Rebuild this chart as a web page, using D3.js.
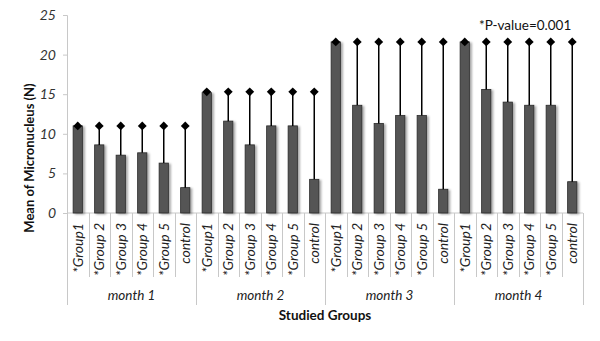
<!DOCTYPE html>
<html><head><meta charset="utf-8">
<script src="https://cdn.jsdelivr.net/npm/d3@7"></script>
<style>body{margin:0;background:#fff}svg{display:block}</style>
</head><body>
<script>
const months = ["month 1", "month 2", "month 3", "month 4"];
const groups = ["*Group1", "*Group 2", "*Group 3", "*Group 4", "*Group 5", "control"];
const means = [
  [11.0, 8.6, 7.3, 7.6, 6.3, 3.2],
  [15.2, 11.6, 8.6, 11.0, 11.0, 4.25],
  [21.6, 13.6, 11.3, 12.3, 12.3, 3.0],
  [21.6, 15.6, 14.0, 13.6, 13.6, 3.95]
];
const errorTops = [11.0, 15.3, 21.6, 21.6];
const yTicks = [0, 5, 10, 15, 20, 25];
const yTitle = "Mean of Micronucleus (N)";
const xTitle = "Studied Groups";
const note = "*P-value=0.001";

const W = 600, H = 341;
const m = {left: 67, right: 17, top: 15, bottom: 128};
const svg = d3.select("body").append("svg").attr("width", W).attr("height", H);
const font = "Lato, 'Open Sans', sans-serif";

const rows = [];
months.forEach((mo, i) => groups.forEach((g, j) => rows.push({key: mo + "|" + g, month: mo, group: g, v: means[i][j], top: errorTops[i], mi: i})));

const x = d3.scaleBand().domain(rows.map(d => d.key)).range([m.left, W - m.right]).paddingInner(0).paddingOuter(0);
const y = d3.scaleLinear().domain([0, 25]).range([H - m.bottom, m.top]);
const bw = x.bandwidth();
const barW = bw * 0.43;

const defs = svg.append("defs");
const f = defs.append("filter").attr("id", "sh").attr("x", "-50%").attr("y", "-10%").attr("width", "200%").attr("height", "120%");
f.append("feDropShadow").attr("dx", 2).attr("dy", 1).attr("stdDeviation", 1.2).attr("flood-color", "#000").attr("flood-opacity", 0.35);

// y axis
const yAxis = d3.axisLeft(y).tickValues(yTicks).tickSize(4).tickFormat(d3.format("d"));
const ya = svg.append("g").attr("transform", `translate(${m.left},0)`).call(yAxis);
ya.select(".domain").attr("stroke", "#c8c8c8");
ya.selectAll(".tick line").attr("stroke", "#c8c8c8");
ya.selectAll(".tick text").attr("font-family", font).attr("font-style", "italic").attr("font-size", 14).attr("fill", "#333").attr("x", -11);

// x axis base line
const y0 = y(0);
svg.append("line").attr("x1", m.left).attr("x2", W - m.right).attr("y1", y0).attr("y2", y0).attr("stroke", "#c8c8c8");

// separators
const seps = x.domain().map((k, i) => ({pos: x(k), monthStart: i % groups.length === 0}));
seps.push({pos: W - m.right, monthStart: true});
svg.append("g").selectAll("line").data(seps).join("line")
  .attr("x1", d => Math.round(d.pos) + 0.5).attr("x2", d => Math.round(d.pos) + 0.5)
  .attr("y1", y0).attr("y2", d => d.monthStart ? 305 : 277)
  .attr("stroke", "#c8c8c8");

// bars
svg.append("g").selectAll("rect").data(rows).join("rect")
  .attr("x", d => x(d.key) + (bw - barW) / 2)
  .attr("y", d => y(d.v))
  .attr("width", barW)
  .attr("height", d => y0 - y(d.v))
  .attr("fill", "#555555").attr("stroke", "#2a2a2a").attr("stroke-width", 0.8)
  .attr("filter", "url(#sh)");

// error bars
const eg = svg.append("g");
eg.selectAll("line").data(rows).join("line")
  .attr("x1", d => x(d.key) + bw / 2).attr("x2", d => x(d.key) + bw / 2)
  .attr("y1", d => y(d.v)).attr("y2", d => y(d.top))
  .attr("stroke", "#000").attr("stroke-width", 1.5);
eg.selectAll("path").data(rows).join("path")
  .attr("d", d3.symbol(d3.symbolDiamond2, 50))
  .attr("transform", d => `translate(${x(d.key) + bw / 2},${y(d.top)})`)
  .attr("fill", "#000");

// category labels
svg.append("g").selectAll("text").data(rows).join("text")
  .attr("transform", d => `translate(${x(d.key) + bw / 2 + 5},${y0 + 10}) rotate(-90)`)
  .attr("text-anchor", "end")
  .attr("font-family", font).attr("font-style", "italic").attr("font-size", 14).attr("fill", "#222")
  .text(d => d.group);

// month labels
svg.append("g").selectAll("text").data(months).join("text")
  .attr("x", (d, i) => (x(d + "|" + groups[0]) + x(d + "|" + groups[groups.length - 1]) + bw) / 2)
  .attr("y", 300)
  .attr("text-anchor", "middle")
  .attr("font-family", font).attr("font-style", "italic").attr("font-size", 13.5).attr("fill", "#222")
  .text(d => d);

// axis titles
svg.append("text").attr("x", (m.left + W - m.right) / 2).attr("y", 320).attr("text-anchor", "middle")
  .attr("font-family", font).attr("font-weight", "bold").attr("font-size", 13.5).attr("fill", "#111").text(xTitle);
svg.append("text").attr("transform", `translate(34,158) rotate(-90)`).attr("text-anchor", "middle")
  .attr("font-family", font).attr("font-weight", "bold").attr("font-size", 13).attr("fill", "#111").text(yTitle);

// note
svg.append("text").attr("x", 479).attr("y", 30)
  .attr("font-family", font).attr("font-size", 13.5).attr("fill", "#111").text(note);
</script>
</body></html>
